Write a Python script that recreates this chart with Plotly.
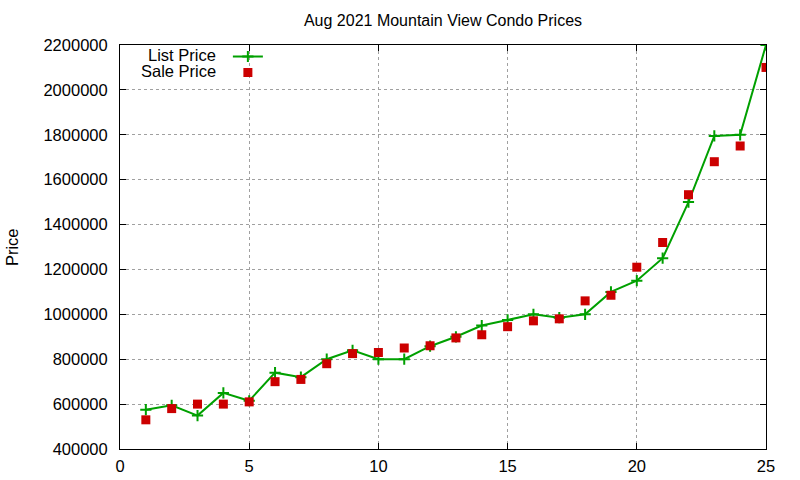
import plotly.graph_objects as go

x_vals = list(range(1, 26))
list_price = [575000, 595000, 549000, 650000, 615000, 740000, 720000, 800000, 840000, 800000,
              800000, 858000, 900000, 950000, 975000, 1000000, 985000, 1000000, 1100000, 1150000,
              1250000, 1500000, 1795000, 1800000, 2200000]
sale_price = [530000, 580000, 600000, 600000, 610000, 700000, 710000, 780000, 825000, 830000,
              850000, 860000, 895000, 909000, 945000, 971000, 980000, 1060000, 1085000, 1210000,
              1320000, 1533000, 1680000, 1750000, 2100000]
y_ticks = list(range(400000, 2200001, 200000))
x_ticks = [0, 5, 10, 15, 20, 25]

FONT = "Liberation Sans, Arial, sans-serif"
GREEN = "#00a000"
RED = "#cc0000"

fig = go.Figure()
fig.add_trace(go.Scatter(
    x=x_vals, y=list_price, mode="lines+markers", name=" ", legend="legend",
    line=dict(color=GREEN, width=2),
    marker=dict(symbol="cross-thin", size=8, line=dict(color=GREEN, width=2), color=GREEN),
))
fig.add_trace(go.Scatter(
    x=x_vals, y=sale_price, mode="markers", name=" ", legend="legend2",
    marker=dict(symbol="square", size=9, color=RED),
))

axis_common = dict(
    showline=True, linecolor="black", linewidth=1, mirror="ticks",
    ticks="inside", ticklen=6, tickcolor="black",
    showgrid=True, gridcolor="#a0a0a0", griddash="dot", gridwidth=1,
    zeroline=False, automargin=False,
    tickfont=dict(family=FONT, size=16.5, color="black"),
)

leg_common = dict(xanchor="left", yanchor="top", bgcolor="rgba(0,0,0,0)",
                  itemwidth=30, font=dict(size=11))

fig.update_layout(
    width=800, height=480,
    margin=dict(l=120, r=34, t=45, b=31, autoexpand=False),
    paper_bgcolor="white", plot_bgcolor="white",
    font=dict(family=FONT, size=16, color="black"),
    title=dict(text="Aug 2021 Mountain View Condo Prices", x=0.5, xref="paper",
               xanchor="center", y=1 - 20 / 480, yanchor="middle", yref="container",
               font=dict(family=FONT, size=16)),
    showlegend=True,
    legend=dict(x=0.167, y=1.0074, **leg_common),
    legend2=dict(x=0.167, y=0.9678, **leg_common),
    xaxis=dict(range=[0, 25], tickvals=x_ticks, ticklabelstandoff=2, **axis_common),
    yaxis=dict(range=[400000, 2200000], tickvals=y_ticks, tickformat="d",
               ticklabelstandoff=8, **axis_common),
    annotations=[
        dict(text="List Price", x=0.152, y=0.975, xref="paper", yref="paper",
             xanchor="right", yanchor="middle", showarrow=False, font=dict(family=FONT, size=16.5)),
        dict(text="Sale Price", x=0.152, y=0.936, xref="paper", yref="paper",
             xanchor="right", yanchor="middle", showarrow=False, font=dict(family=FONT, size=16.5)),
        dict(text="Price", x=-0.167, y=0.5, xref="paper", yref="paper", textangle=-90,
             xanchor="center", yanchor="middle", showarrow=False, font=dict(family=FONT, size=16.5)),
    ],
)

fig.write_html("out.html", config={"displayModeBar": False},
               post_script="document.body.style.margin='0';document.body.style.overflow='hidden';")
